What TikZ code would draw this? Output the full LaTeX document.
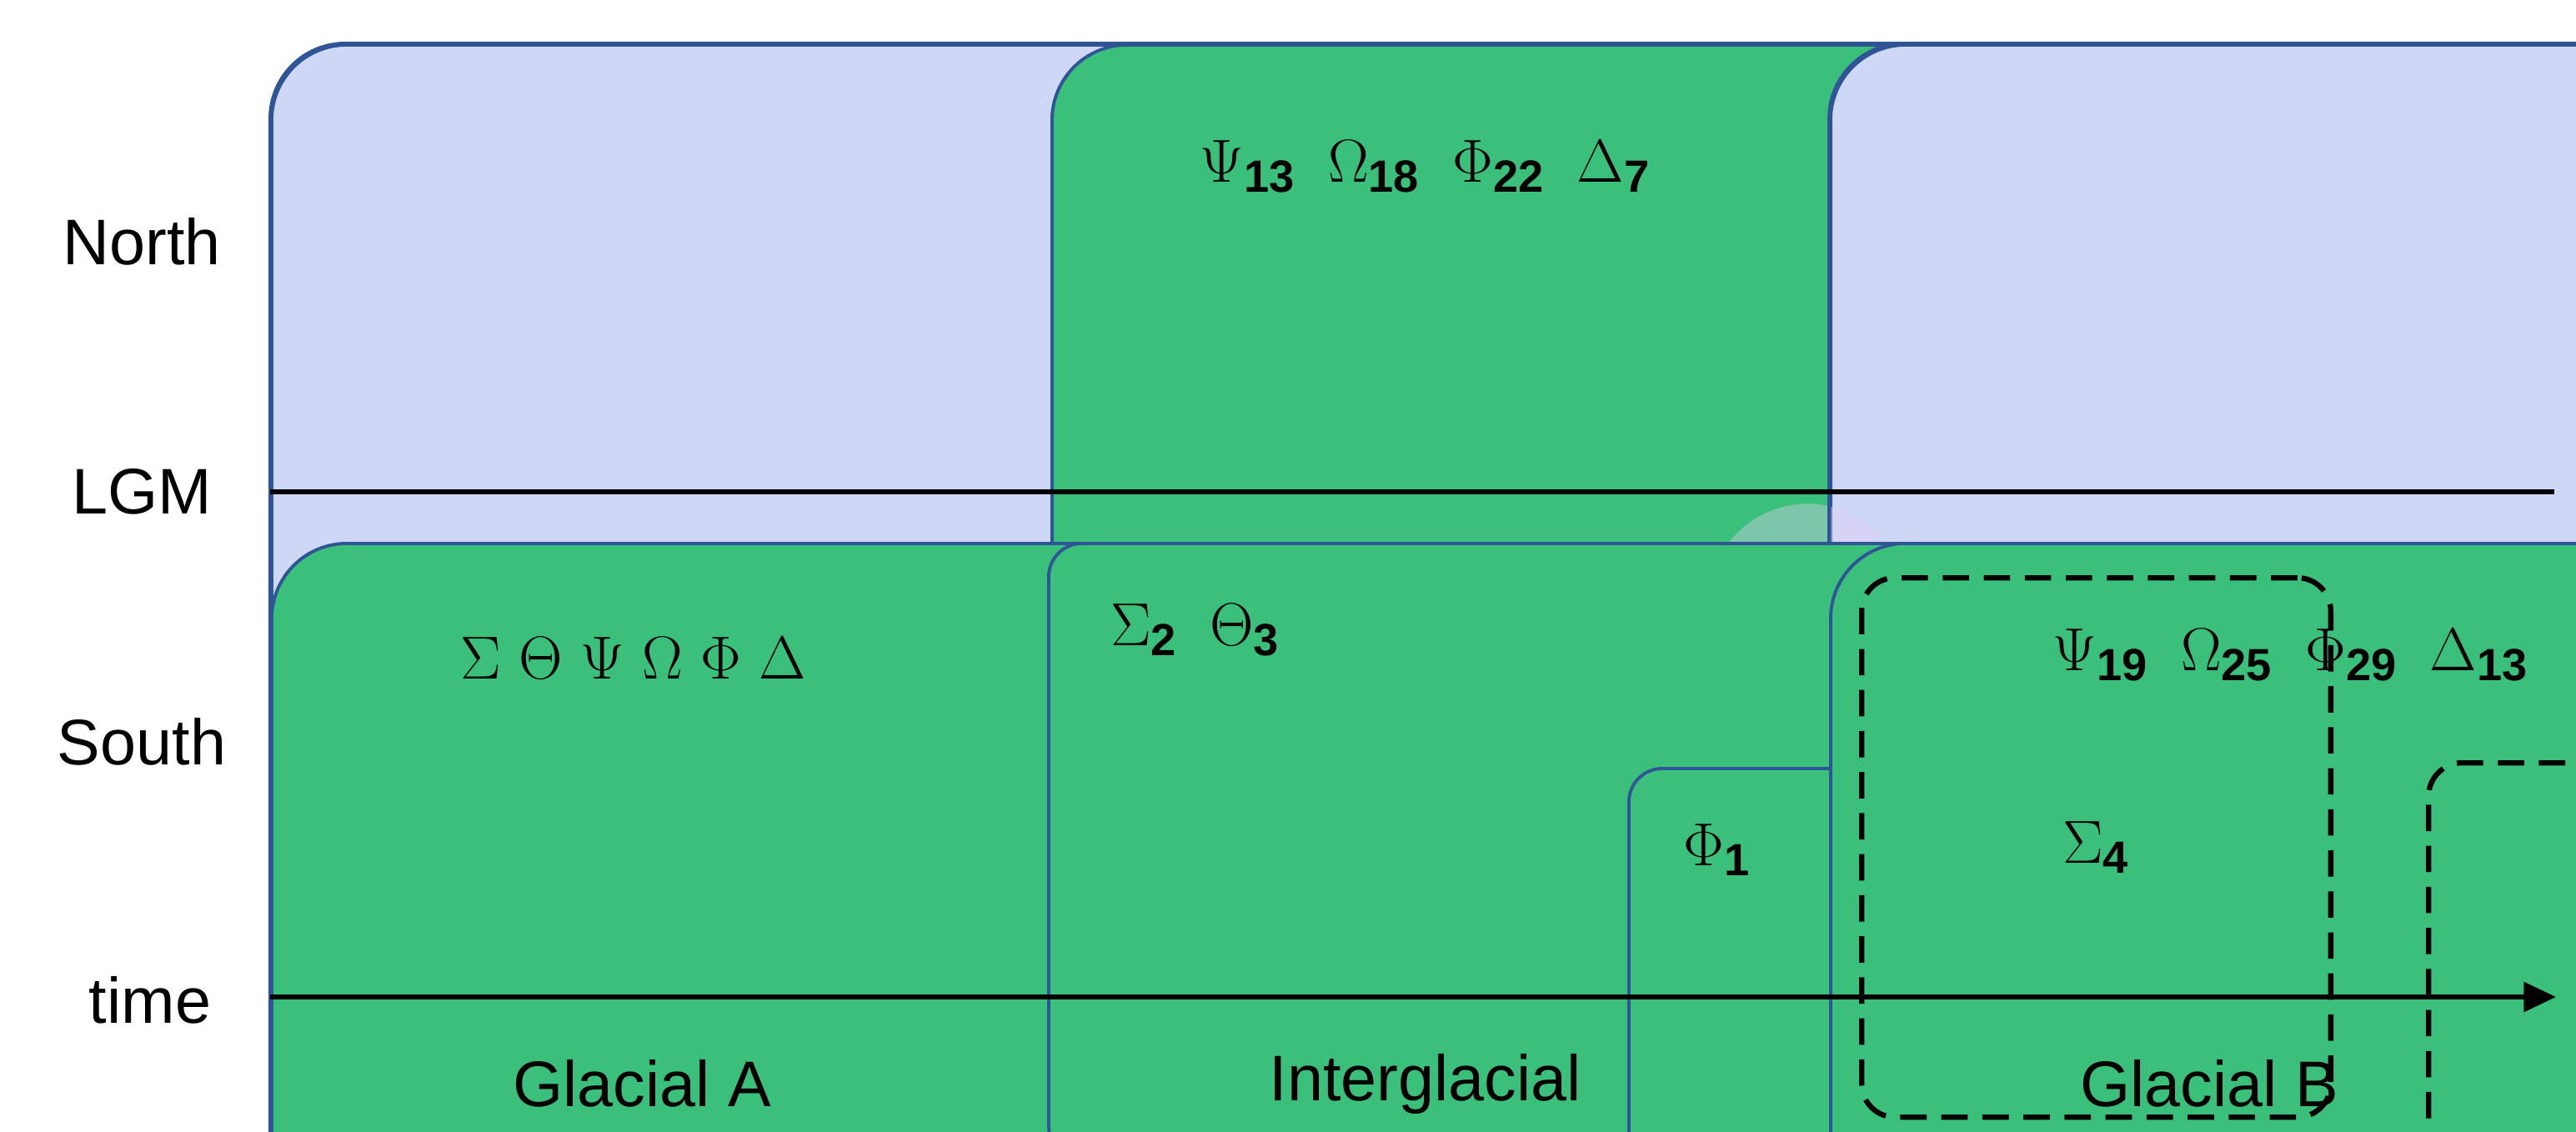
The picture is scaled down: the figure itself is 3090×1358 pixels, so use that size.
\documentclass[tikz,border=0pt]{standalone}
\usepackage{fontspec}
\setmainfont{Liberation Sans}
\usepackage{tikz}
\usetikzlibrary{arrows.meta,positioning,calc}
\definecolor{boxgreen}{RGB}{58,192,122}
\definecolor{boxedge}{RGB}{47,85,151}
\definecolor{ice}{RGB}{206,216,246}
\definecolor{icepink}{RGB}{226,208,244}
\definecolor{iceblue}{RGB}{196,228,250}

\begin{document}
\begin{tikzpicture}[
  x=0.01cm, y=-0.01cm,
  font=\fontsize{22}{26}\selectfont,
  box/.style={draw=boxedge, line width=1.1pt, rounded corners=0.9cm, fill=boxgreen, anchor=north west, inner sep=0pt},
  icebox/.style={box, fill=ice},
  small/.style={box, rounded corners=0.4cm},
  taxa/.style={font=\fontsize{22}{26}\selectfont\bfseries},
  dashbox/.style={draw, line width=1.8pt, dash pattern=on 9pt off 5pt, rounded corners=0.4cm, anchor=north west, inner sep=0pt},
  axis/.style={line width=1.6pt},
  arrow/.style={-{Triangle[length=11pt,width=10pt]}, line width=1.6pt}
]
\useasboundingbox (0,0) rectangle (3090,1358);

% NORTH
\node[icebox, minimum width=900, minimum height=478] (northA) at (324,52) {};
\node[box, minimum width=906, minimum height=478] (northI) at (1260,52) {};
\node[icebox, minimum width=892, minimum height=478] (northB) at (2194,52) {};
\foreach \b in {northA,northB}{
  \begin{scope}
    \clip[rounded corners=0.9cm] (\b.north west) rectangle (\b.south east);
    \fill[icepink, opacity=0.5] ($(\b.center)+(-180,-60)$) circle (160);
    \fill[iceblue, opacity=0.6] ($(\b.center)+(200,120)$) circle (190);
    \fill[icepink, opacity=0.4] ($(\b.center)+(260,-170)$) circle (120);
  \end{scope}
  \draw[boxedge, line width=1.1pt, rounded corners=0.9cm] (\b.north west) rectangle (\b.south east);
}
\node[taxa] (tI) at (1710,200) {$\Psi$\textsubscript{13}\enspace $\Omega$\textsubscript{18}\enspace $\Phi$\textsubscript{22}\enspace $\Delta$\textsubscript{7}};

% LGM
\coordinate (lgmL) at (324,590);
\coordinate (lgmR) at (3064,590);
\draw[axis] (lgmL) -- (lgmR);

% SOUTH
\node[box, minimum width=900, minimum height=466] (southA) at (324,650) {};
\node[taxa] (tA) at (760,790) {$\Sigma$ $\Theta$ $\Psi$ $\Omega$ $\Phi$ $\Delta$};
\node[small, minimum width=356, minimum height=210] (southI) at (1256,650) {};
\node[taxa] (tI2) at (1434,756) {$\Sigma$\textsubscript{2}\enspace $\Theta$\textsubscript{3}};
\node[small, minimum width=214, minimum height=200] (southP) at (1952,920) {};
\node[taxa] (tP) at (2060,1020) {$\Phi$\textsubscript{1}};
\node[box, minimum width=892, minimum height=466] (southB) at (2194,650) {};
\node[dashbox, minimum width=160, minimum height=184] (sig) at (2230,690) {};
\node[taxa] (tS) at (sig) {$\Sigma$\textsubscript{4}};
\node[taxa] (tB) at (2748,786) {$\Psi$\textsubscript{19}\enspace $\Omega$\textsubscript{25}\enspace $\Phi$\textsubscript{29}\enspace $\Delta$\textsubscript{13}};
\node[dashbox, minimum width=156, minimum height=188] (phi) at (2910,912) {};
\node[taxa] (tF) at (phi) {$\Phi$\textsubscript{3}};

% TIME
\coordinate (tL) at (324,1196);
\coordinate (tR) at (3066,1196);
\draw[arrow] (tL) -- (tR);

% LABELS
\node (north) at (170,290) {North};
\node (lgm) at (170,590) {LGM};
\node (south) at (170,890) {South};
\node (time) at (180,1200) {time};
\node (glA) at (770,1300) {Glacial A};
\node (inter) at (1710,1300) {Interglacial};
\node (glB) at (2650,1300) {Glacial B};
\end{tikzpicture}
\end{document}
